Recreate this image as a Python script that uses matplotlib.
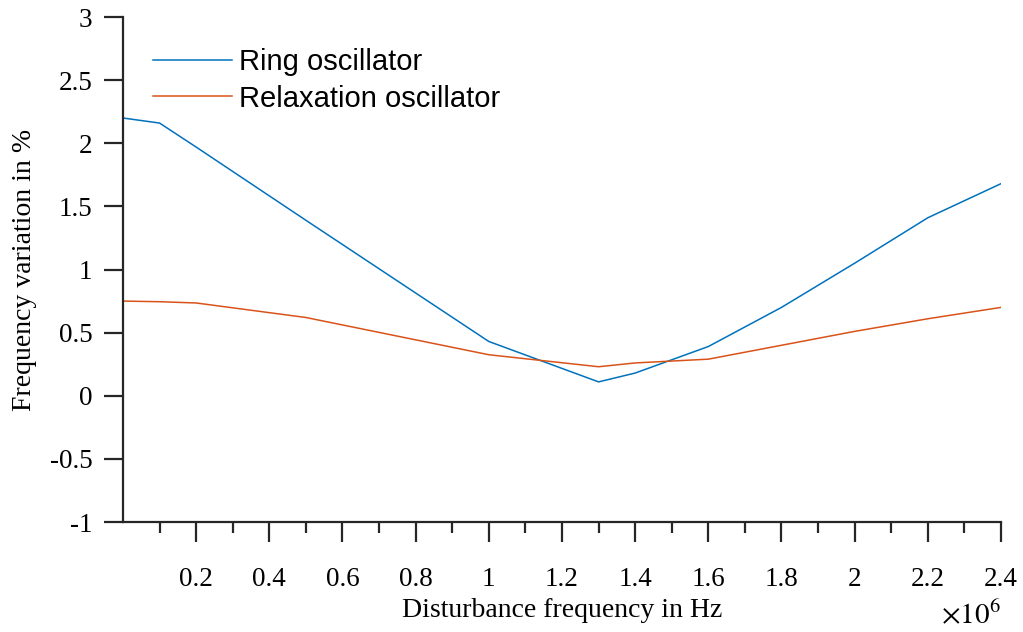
import numpy as np
import matplotlib
matplotlib.use("Agg")
import matplotlib.pyplot as plt
from matplotlib.ticker import FixedLocator, FuncFormatter

# frequencies in Hz
freq = [0, 0.1e6, 0.2e6, 0.5e6, 1.0e6, 1.3e6, 1.4e6, 1.6e6, 1.8e6, 2.0e6, 2.2e6, 2.4e6]
ring = [2.20, 2.16, 1.97, 1.39, 0.43, 0.11, 0.18, 0.39, 0.70, 1.05, 1.41, 1.68]
relax = [0.75, 0.745, 0.735, 0.62, 0.325, 0.23, 0.26, 0.29, 0.40, 0.51, 0.61, 0.70]
labels = ["Ring oscillator", "Relaxation oscillator"]

plt.rcParams['font.family'] = ['Liberation Serif', 'DejaVu Serif']
plt.rcParams['mathtext.fontset'] = 'stix'
plt.rcParams['axes.unicode_minus'] = False

fig = plt.figure(figsize=(10.23, 6.32), dpi=100)
ax = fig.add_axes([0.1202, 0.174, 0.8583, 0.7991])

ax.plot(freq, ring, color='#0072BD', lw=1.1, label=labels[0])
ax.plot(freq, relax, color='#D95319', lw=1.1, label=labels[1])

ax.set_xlim(0, 2.4e6)
ax.set_ylim(-1, 3)
ax.set_yticks(np.arange(-1, 3.01, 0.5))
ax.set_yticklabels(['-1', '-0.5', '0', '0.5', '1', '1.5', '2', '2.5', '3'])
ax.xaxis.set_major_locator(FixedLocator(np.arange(0.2e6, 2.41e6, 0.2e6)))
ax.xaxis.set_minor_locator(FixedLocator(np.arange(0.1e6, 2.41e6, 0.2e6)))
ax.xaxis.set_major_formatter(FuncFormatter(lambda v, p: '%g' % round(v / 1e6, 1)))

for s in ['top', 'right']:
    ax.spines[s].set_visible(False)
for s in ['left', 'bottom']:
    ax.spines[s].set_linewidth(1.6)
    ax.spines[s].set_color('#262626')

ax.tick_params(axis='y', which='major', direction='out', length=14, width=1.6,
               color='#262626', labelsize=19.5, pad=8)
ax.tick_params(axis='x', which='major', direction='out', length=14.5, width=1.6,
               color='#262626', labelsize=19.5, pad=18)
ax.tick_params(axis='x', which='minor', direction='out', length=8, width=1.6,
               color='#262626')

ax.set_xlabel('Disturbance frequency in Hz', fontsize=20, labelpad=4)
ax.set_ylabel('Frequency variation in %', fontsize=20, labelpad=9)
ax.text(1.0, -0.155, r'$\times10^{6}$', transform=ax.transAxes, ha='right',
        va='top', fontsize=21)

ax.legend(loc='upper left', bbox_to_anchor=(0.034, 0.939), frameon=False,
          prop={'family': 'Liberation Sans', 'size': 21}, borderpad=0,
          borderaxespad=0, handlelength=2.7, handletextpad=0.25, labelspacing=0.3)

fig.savefig('out.png', dpi=100)
